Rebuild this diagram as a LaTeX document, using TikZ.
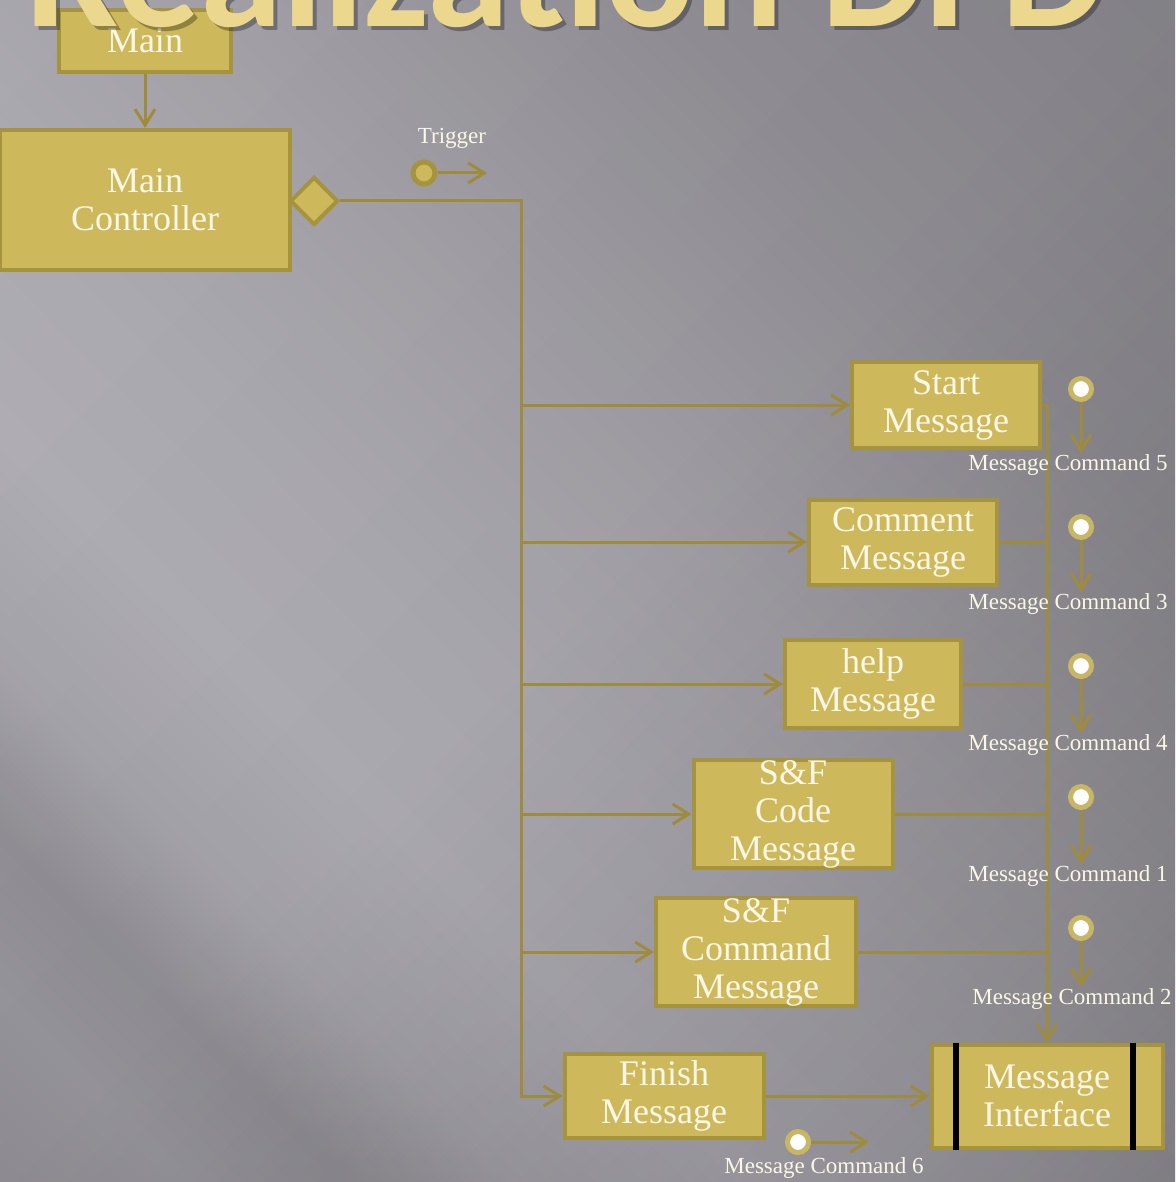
\documentclass[tikz,border=0pt]{standalone}
\usepackage{fontspec}
\setmainfont{Liberation Serif}
\newfontfamily\titlefont{Carlito}
\usetikzlibrary{shapes.geometric,arrows.meta}

\definecolor{gold}{HTML}{CDB95C}
\definecolor{goldedge}{HTML}{A5933E}
\definecolor{flowline}{HTML}{9E8C3C}
\definecolor{ring}{HTML}{C9B665}
\definecolor{paper}{HTML}{FBF7E6}
\definecolor{titlegold}{HTML}{EBD88E}

% slide backdrop: diagonal bands and a darkening towards the lower right
\pgfdeclarehorizontalshading{slidebands}{100bp}{
  rgb(0bp)=(0.470,0.463,0.486);
  rgb(11.5bp)=(0.494,0.486,0.510);
  rgb(13.5bp)=(0.577,0.569,0.592);
  rgb(20bp)=(0.612,0.604,0.631);
  rgb(25bp)=(0.584,0.576,0.600);
  rgb(30bp)=(0.667,0.659,0.686);
  rgb(37bp)=(0.706,0.698,0.725);
  rgb(45bp)=(0.690,0.682,0.710);
  rgb(55bp)=(0.655,0.647,0.671);
  rgb(70bp)=(0.580,0.573,0.596);
  rgb(100bp)=(0.500,0.492,0.516)}
\pgfdeclarehorizontalshading{slidedim}{100bp}{
  rgb(0bp)=(1,1,1);
  rgb(50bp)=(0.95,0.95,0.95);
  rgb(75bp)=(0.82,0.82,0.82);
  rgb(100bp)=(0.63,0.63,0.63)}

\begin{document}
\begin{tikzpicture}[
  x=0.5pt, y=-0.5pt,
  every node/.style={font=\fontsize{18}{19}\selectfont, text=paper},
  proc/.style={rectangle, draw=goldedge, fill=gold, line width=2pt, align=center, inner sep=0pt},
  src/.style={circle, draw=ring, fill=white, line width=2.5pt, minimum size=10.5pt, inner sep=0pt},
  lbl/.style={font=\fontsize{11.5}{13}\selectfont, inner sep=0pt},
  headline/.style={font=\titlefont\bfseries\fontsize{83}{83}\selectfont, anchor=base},
  ->, >={Straight Barb[length=8pt,width=10pt]}, color=flowline, line width=1.5pt
]
  % slide background
  \useasboundingbox (0,0) rectangle (1175,1182);
  \clip (0,0) rectangle (1175,1182);
  \shade[-, shading=slidebands, shading angle=45] (0,0) rectangle (1175,1182);
  \shade[-, shading=slidedim, shading angle=-45, blend mode=multiply] (0,0) rectangle (1175,1182);

  % processes
  \node[proc, minimum width=86pt, minimum height=31pt] (main) at (145,41) {Main};
  \node[proc, minimum width=145pt, minimum height=70pt] (ctrl) at (145,200) {Main\\Controller};
  \node[diamond, draw=goldedge, fill=gold, line width=2pt, minimum size=24pt, inner sep=0pt] (dec) at (314,201) {};

  \node[proc, minimum width=94pt, minimum height=43pt] (start) at (946,405) {Start\\Message};
  \node[proc, minimum width=94pt, minimum height=42.5pt] (comment) at (903,542) {Comment\\Message};
  \node[proc, minimum width=88pt, minimum height=44pt] (help) at (873,684) {help\\Message};
  \node[proc, minimum width=99.5pt, minimum height=53pt] (sfcode) at (793,814) {S\&F\\Code\\Message};
  \node[proc, minimum width=100pt, minimum height=53pt] (sfcmd) at (756,952) {S\&F\\Command\\Message};
  \node[proc, minimum width=99.5pt, minimum height=42pt] (finish) at (664,1096) {Finish\\Message};
  \node[proc, minimum width=115.5pt, minimum height=51.5pt] (iface) at (1047,1096) {Message\\Interface};
  \draw[-, black, line width=3pt] ([xshift=13pt]iface.north west) -- ([xshift=13pt]iface.south west);
  \draw[-, black, line width=3pt] ([xshift=-16pt]iface.north east) -- ([xshift=-16pt]iface.south east);

  % title, over the top of the Main box
  \node[headline, text=black, opacity=0.3] (titleshadow) at (570,31) {Realization DFD};
  \node[headline, text=titlegold] (title) at (566,27) {Realization DFD};

  % control flow
  \coordinate (bus) at (521,1096);
  \draw (main) -- (ctrl);
  \draw (dec.east) -| (bus) -- (finish);
  \draw (bus |- start.west) -- (start);
  \draw (bus |- comment.west) -- (comment);
  \draw (bus |- help.west) -- (help);
  \draw (bus |- sfcode.west) -- (sfcode);
  \draw (bus |- sfcmd.west) -- (sfcmd);
  \draw (finish) -- (iface);

  \draw (start.east) -| (iface.north);
  \draw[-] (comment) -- (comment -| iface.north);
  \draw[-] (help) -- (help -| iface.north);
  \draw[-] (sfcode) -- (sfcode -| iface.north);
  \draw[-] (sfcmd) -- (sfcmd -| iface.north);

  % trigger
  \node[circle, draw=goldedge, fill=gold, line width=2.5pt, minimum size=11pt, inner sep=0pt] (trig) at (424,173) {};
  \coordinate (trigend) at (487,173);
  \draw (trig) -- (trigend);
  \node[lbl] (triglbl) at (452,138) {Trigger};

  % message commands
  \node[src] (c5) at (1081,389) {};
  \node[src] (c3) at (1081,527) {};
  \node[src] (c4) at (1081,666) {};
  \node[src] (c1) at (1081,797) {};
  \node[src] (c2) at (1081,928) {};
  \node[src] (c6) at (798,1142) {};

  \node[lbl] (l5) at (1068,465) {Message Command 5};
  \node[lbl] (l3) at (1068,604) {Message Command 3};
  \node[lbl] (l4) at (1068,745) {Message Command 4};
  \node[lbl] (l1) at (1068,876) {Message Command 1};
  \node[lbl] (l2) at (1072,999) {Message Command 2};
  \node[lbl] (l6) at (824,1168) {Message Command 6};

  \draw (c5) -- (c5 |- l5.north);
  \draw (c3) -- (c3 |- l3.north);
  \draw (c4) -- (c4 |- l4.north);
  \draw (c1) -- (c1 |- l1.north);
  \draw (c2) -- (c2 |- l2.north);
  \coordinate (c6end) at (869,1142);
  \draw (c6) -- (c6end);
\end{tikzpicture}
\end{document}
